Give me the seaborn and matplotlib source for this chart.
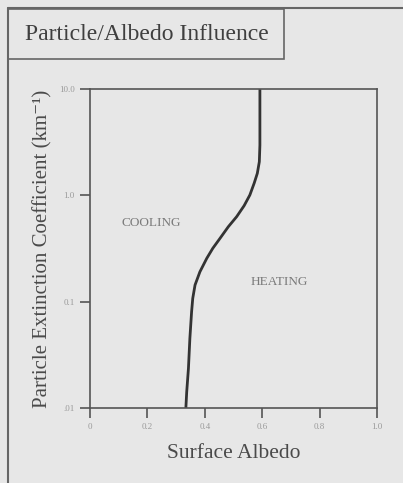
import numpy as np
import pandas as pd
import matplotlib
matplotlib.use("Agg")
import matplotlib.pyplot as plt
from matplotlib.lines import Line2D
from matplotlib.patches import Rectangle
import seaborn as sns

# Data
albedo = [0.334, 0.337, 0.343, 0.348, 0.354, 0.358, 0.366, 0.383, 0.407, 0.428,
          0.453, 0.482, 0.511, 0.537, 0.557, 0.572, 0.583, 0.590, 0.592, 0.592, 0.592]
extinction = [0.0100, 0.0142, 0.0236, 0.0452, 0.0804, 0.1074, 0.1435, 0.191, 0.256, 0.318,
              0.394, 0.507, 0.630, 0.799, 1.007, 1.30, 1.61, 2.07, 2.97, 5.30, 10.0]
x_ticks = [0, 0.2, 0.4, 0.6, 0.8, 1.0]
x_tick_labels = ["0", "0.2", "0.4", "0.6", "0.8", "1.0"]
y_ticks = [0.01, 0.1, 1.0, 10.0]
y_tick_labels = [".01", "0.1", "1.0", "10.0"]

df = pd.DataFrame({"albedo": albedo, "extinction": extinction})

bg = "#e7e7e7"
ink = "#555555"
sns.set_theme(style="ticks")
plt.rcParams["font.family"] = ["Liberation Serif", "DejaVu Serif"]

W, H = 403, 483
fig = plt.figure(figsize=(W / 100, H / 100), dpi=100, facecolor=bg)
ax = fig.add_axes([90 / W, 1 - 408 / H, (377 - 90) / W, (408 - 89) / H])
ax.set_facecolor(bg)

sns.lineplot(data=df, x="albedo", y="extinction", sort=False, estimator=None,
             color="#333333", linewidth=2.0, ax=ax)
for ln in ax.lines:
    ln.set_solid_joinstyle("round")
    ln.set_solid_capstyle("butt")

ax.set_yscale("log")
ax.set_xlim(0, 1.0)
ax.set_ylim(0.01, 10.0)
ax.set_xticks(x_ticks)
ax.set_xticklabels(x_tick_labels)
ax.set_yticks(y_ticks)
ax.set_yticklabels(y_tick_labels)
ax.minorticks_off()
ax.tick_params(axis="both", direction="out", length=7, width=1.2, color=ink,
               labelsize=6.5, labelcolor="#9a9a9a", pad=4)
for s in ax.spines.values():
    s.set_visible(True)
    s.set_color(ink)
    s.set_linewidth(1.2)

ax.set_xlabel("Surface Albedo", fontsize=15.5, color="#4a4a4a", labelpad=9)
ax.set_ylabel("Particle Extinction Coefficient (km\u207b\u00b9)", fontsize=15,
              color="#4a4a4a", labelpad=5)

ax.text(0.213, 0.55, "COOLING", fontsize=9.5, color="#7a7a7a", ha="center", va="center")
ax.text(0.66, 0.153, "HEATING", fontsize=9.5, color="#7a7a7a", ha="center", va="center")

# Frame lines
def fx(px):
    return px / W

def fy(py):
    return 1 - py / H

fig.add_artist(Line2D([fx(8), fx(403)], [fy(8), fy(8)], color="#666666", lw=1.5))
fig.add_artist(Line2D([fx(8), fx(8)], [fy(8), fy(483)], color="#666666", lw=1.5))
fig.add_artist(Rectangle((fx(8), fy(59)), fx(284) - fx(8), fy(9) - fy(59),
                         fill=False, edgecolor="#666666", lw=1.2))
fig.text(fx(25), fy(35), "Particle/Albedo Influence", fontsize=17,
         color="#3f3f3f", ha="left", va="center")

fig.savefig("out.png", dpi=100, facecolor=bg)
